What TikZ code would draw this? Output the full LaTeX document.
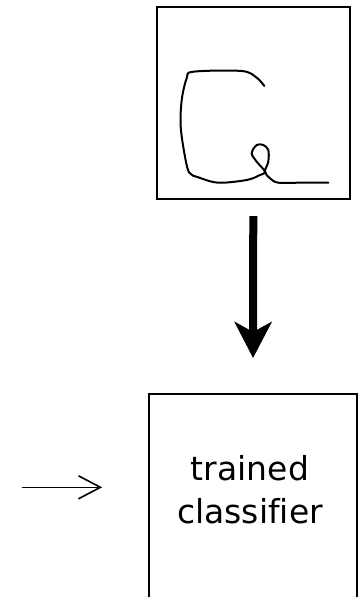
\documentclass[tikz,border=0pt]{standalone}
\usepackage{fontspec}
\setmainfont[Ligatures=NoCommon]{DejaVu Sans}
\usetikzlibrary{arrows.meta,calc}
\tikzset{
  frame/.style={draw=black, line width=2.2pt, rectangle, inner sep=0pt},
  bigarrow/.style={line width=8pt, -{Stealth[length=36pt, width=37pt, inset=10pt]}},
  thinarrow/.style={line width=1.6pt, -{Straight Barb[length=22pt, width=23pt, line width=1.6pt]}},
  stroke/.style={line width=2pt, line cap=round, line join=round},
  caption/.style={align=center, font=\fontsize{33}{43}\selectfont, inner sep=0pt}
}
\begin{document}
\begin{tikzpicture}[x=1pt, y=-1pt]
  \useasboundingbox (0,0) rectangle (360,597);
  \clip (0,0) rectangle (360,597);

  % input sample: a handwritten stroke in a frame
  \node[frame, minimum width=193.3pt, minimum height=192.6pt] (sample) at (253.3,103) {};
  \draw[stroke] plot[smooth, tension=0.55] coordinates {
    (264.3,86) (256.7,77.7) (241.7,71) (193.3,71.7) (186.7,78.3)
    (181.7,100) (180.7,126.7) (185,156.7) (189.3,172.7) (198.3,177.3)
    (218.3,182.7) (246.7,180) (260,175) (265,171.7) (256.7,161.7)
    (251.7,153.3) (256.7,145) (263.3,145) (268.3,150) (268.3,161.7)
    (265,171.7) (270,178.3) (278.3,182.7) (300,182.7) (328.3,182.7)};

  % classifier box, running off the lower edge
  \node[frame, minimum width=207.4pt, minimum height=240pt, anchor=north] (clf) at (253,392.7) {};
  \node[caption] (clftext) at (250,490) {trained\\classifier};

  % connectors
  \draw[bigarrow, shorten <=15.7pt, shorten >=34.7pt] (sample.south) -- (clf.north);
  \coordinate (feed) at (21.7,487.3);
  \draw[thinarrow, shorten >=46pt] (feed) -- (feed -| clf.west);
\end{tikzpicture}
\end{document}
